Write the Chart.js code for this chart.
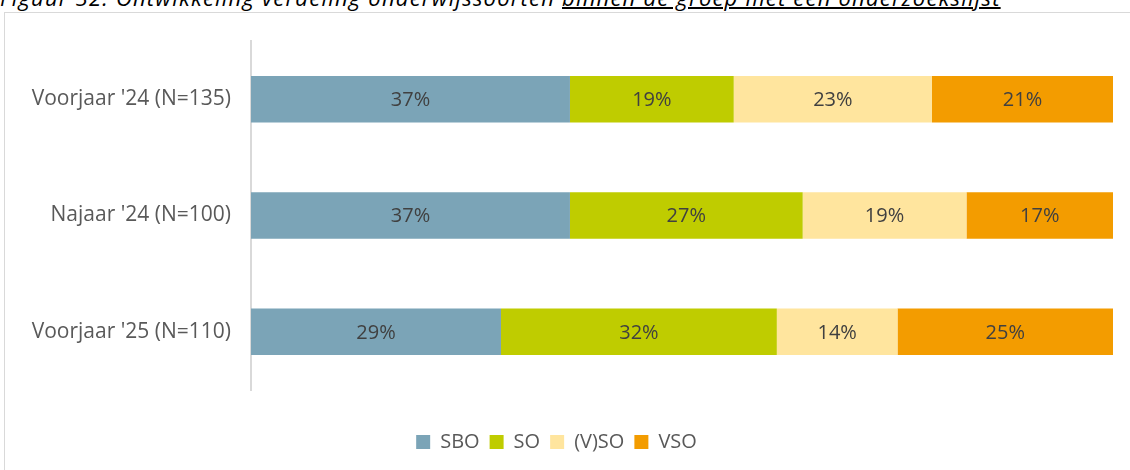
<!DOCTYPE html>
<html>
<head>
<meta charset="utf-8">
<script src="https://cdn.jsdelivr.net/npm/chart.js@4"></script>
<style>
html,body{margin:0;padding:0;background:#fff;width:1130px;height:470px;overflow:hidden;position:relative;}
#title{position:absolute;left:0px;top:-15px;white-space:nowrap;font-family:"Open Sans",sans-serif;font-style:italic;font-size:22px;line-height:24px;letter-spacing:1.2px;color:#000;}
#title u{text-decoration-thickness:2px;}
#frame{position:absolute;left:4px;top:12px;width:1200px;height:600px;border:1px solid #d9d9d9;box-sizing:border-box;}
#wrap{position:absolute;left:0;top:0;width:1130px;height:470px;}
</style>
</head>
<body>
<div id="title">Figuur 32: Ontwikkeling verdeling onderwijssoorten <u>binnen de groep met een onderzoekslijst</u></div>
<div id="frame"></div>
<div id="wrap"><canvas id="c" width="1130" height="470"></canvas></div>
<script>
const categories = ["Voorjaar '24 (N=135)", "Najaar '24 (N=100)", "Voorjaar '25 (N=110)"];
const seriesNames = ["SBO", "SO", "(V)SO", "VSO"];
const sbo = [37, 37, 29];
const so = [19, 27, 32];
const vso_mixed = [23, 19, 14];
const vso = [21, 17, 25];
const colors = ["#7BA4B7", "#BFCC00", "#FFE59E", "#F39C00"];

const FONT = "'Open Sans', sans-serif";

const valueLabels = {
  id: 'valueLabels',
  afterDatasetsDraw(chart) {
    const ctx = chart.ctx;
    ctx.save();
    ctx.font = "20px " + FONT;
    ctx.fillStyle = "#404040";
    ctx.textAlign = "center";
    ctx.textBaseline = "middle";
    chart.data.datasets.forEach((ds, i) => {
      const meta = chart.getDatasetMeta(i);
      meta.data.forEach((bar, j) => {
        const x = (bar.x + bar.base) / 2;
        ctx.fillText(ds.data[j] + "%", x, bar.y + 1);
      });
    });
    ctx.restore();
  }
};

const data = {
  labels: categories,
  datasets: [sbo, so, vso_mixed, vso].map((d, i) => ({
    label: seriesNames[i],
    data: d,
    backgroundColor: colors[i],
    borderWidth: 0,
    barPercentage: 0.4,
    categoryPercentage: 1.0
  }))
};

new Chart(document.getElementById('c'), {
  type: 'bar',
  data: data,
  options: {
    indexAxis: 'y',
    responsive: false,
    animation: false,
    layout: { padding: { top: 41, right: 17, bottom: 8, left: 0 } },
    plugins: {
      legend: {
        position: 'bottom',
        title: { display: true, text: '', font: { size: 10 }, padding: { top: 20, bottom: 0 } },
        labels: {
          font: { family: FONT, size: 20 },
          color: '#595959',
          boxWidth: 14,
          boxHeight: 14,
          padding: 10
        }
      },
      tooltip: { enabled: false }
    },
    scales: {
      x: {
        stacked: true,
        min: 0,
        max: 100,
        display: false
      },
      y: {
        stacked: true,
        grid: { display: false, drawTicks: false },
        border: { display: true, color: '#d9d9d9', width: 2 },
        ticks: {
          font: { family: FONT, size: 21 },
          color: '#595959',
          padding: 20
        },
        afterFit(scale) { scale.width = 251; }
      }
    }
  },
  plugins: [valueLabels]
});
</script>
</body>
</html>
